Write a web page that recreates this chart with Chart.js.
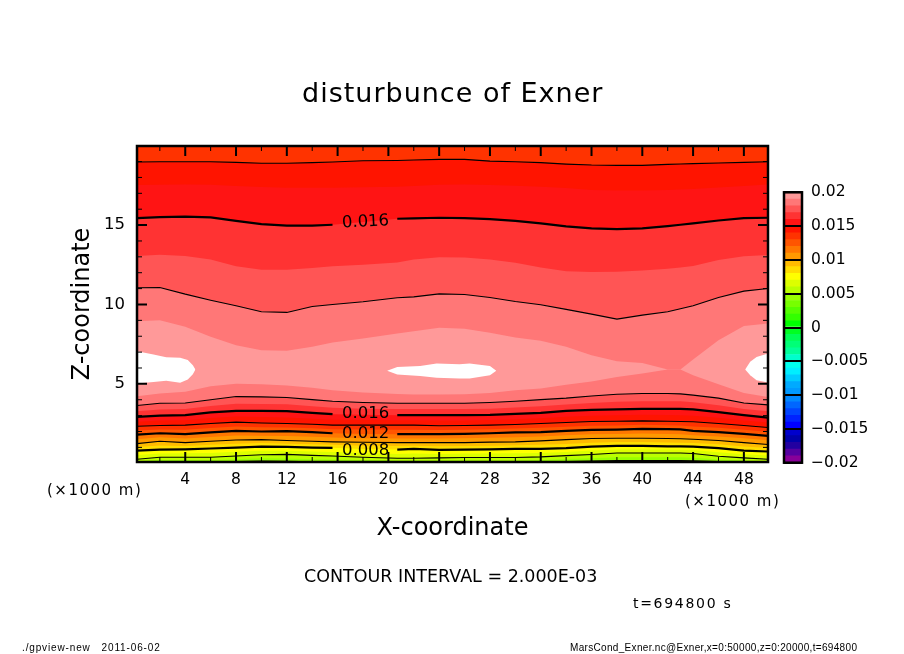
<!DOCTYPE html>
<html>
<head>
<meta charset="utf-8">
<title>disturbunce of Exner</title>
<script src="https://cdn.jsdelivr.net/npm/chart.js@4/dist/chart.umd.min.js"></script>
<style>
  html,body{margin:0;padding:0;background:#fff;width:904px;height:654px;overflow:hidden;}
  canvas{position:absolute;}
  #main{left:0;top:0;}
  #bar{left:770px;top:174px;}
  .txt{position:absolute;white-space:pre;color:#000;font-family:"DejaVu Sans",sans-serif;line-height:1;transform:translateY(-50%);}
  .foot{font-family:"Liberation Sans",sans-serif;font-size:10px;}
</style>
</head>
<body>
<canvas id="main" width="904" height="654"></canvas>
<canvas id="bar" width="130" height="307"></canvas>
<div class="txt" style="left:302px;top:92px;font-size:27px;letter-spacing:1px;">disturbunce of Exner</div>
<div class="txt" style="left:47px;top:490px;font-size:15px;letter-spacing:1.5px;">(×1000 m)</div>
<div class="txt" style="left:685px;top:501px;font-size:15px;letter-spacing:1.5px;">(×1000 m)</div>
<div class="txt" style="left:304px;top:577px;font-size:17.5px;">CONTOUR INTERVAL = 2.000E-03</div>
<div class="txt" style="left:633px;top:603px;font-size:14px;letter-spacing:1.7px;">t=694800 s</div>
<div class="txt foot" style="left:22px;top:648px;letter-spacing:0.86px;">./gpview-new   2011-06-02</div>
<div class="txt foot" style="left:570px;top:648px;letter-spacing:0.32px;">MarsCond_Exner.nc@Exner,x=0:50000,z=0:20000,t=694800</div>
<script>
// x grid (km) shared by all the contour rows
const xKm = [0.2,2,4,6,8,10,12,14,15.6,18,20.7,22,24,26,28,30,32,34,36,38,40,42,43,44,46,48,49.9];

// top of the plot, then the upper side of the maximum: height (km) of each level
const uTop = [19.98,19.98,19.98,19.98,19.98,19.98,19.98,19.98,19.98,19.98,19.98,19.98,19.98,19.98,19.98,19.98,19.98,19.98,19.98,19.98,19.98,19.98,19.98,19.98,19.98,19.98,19.98];
const u014 = [18.97,18.99,18.99,18.99,18.95,18.89,18.89,18.93,18.97,19.05,19.07,19.10,19.14,19.14,19.03,18.99,18.93,18.84,18.78,18.76,18.76,18.82,18.85,18.87,18.91,18.95,18.99];
const u015 = [17.52,17.54,17.56,17.54,17.46,17.40,17.35,17.35,17.35,17.38,17.42,17.46,17.54,17.56,17.52,17.48,17.42,17.34,17.21,17.17,17.17,17.21,17.24,17.27,17.36,17.46,17.56];
const u016 = [15.44,15.50,15.53,15.48,15.27,15.06,14.96,14.96,15.02,15.20,15.40,15.42,15.46,15.44,15.38,15.27,15.11,14.92,14.79,14.75,14.79,14.94,15.02,15.11,15.29,15.44,15.46];
const u017 = [13.05,13.13,13.05,12.84,12.40,12.19,12.19,12.29,12.40,12.50,12.65,12.84,12.98,12.96,12.84,12.63,12.33,12.10,12.04,12.06,12.14,12.25,12.33,12.42,12.80,13.03,13.11];
const u018 = [11.05,11.07,10.65,10.27,9.92,9.54,9.50,9.87,10.00,10.17,10.42,10.48,10.67,10.63,10.44,10.19,9.98,9.69,9.39,9.08,9.33,9.54,9.73,9.92,10.44,10.84,11.01];
const u019 = [8.95,9.01,8.59,7.96,7.44,7.12,7.08,7.33,7.60,7.86,8.17,8.32,8.53,8.47,8.22,7.92,7.71,7.33,6.81,6.43,6.32,5.90,5.90,6.53,7.75,8.64,8.80];

// lower side of the maximum
const l019 = [4.22,4.39,4.50,4.85,5.00,4.98,4.90,4.75,4.60,4.46,4.37,4.33,4.33,4.35,4.43,4.60,4.71,4.94,5.15,5.44,5.65,5.90,5.90,5.55,4.98,4.43,4.18];
const l018 = [3.64,3.78,3.80,4.00,4.20,4.18,4.14,4.01,3.91,3.83,3.78,3.78,3.78,3.78,3.83,3.91,4.01,4.10,4.24,4.35,4.39,4.39,4.37,4.29,4.10,3.80,3.68];
const l017 = [3.28,3.39,3.42,3.60,3.75,3.74,3.71,3.59,3.50,3.44,3.41,3.41,3.41,3.41,3.44,3.51,3.59,3.70,3.80,3.88,3.91,3.91,3.90,3.84,3.66,3.42,3.28];
const l016 = [2.92,3.00,3.03,3.20,3.30,3.30,3.28,3.17,3.09,3.05,3.03,3.03,3.03,3.03,3.05,3.11,3.17,3.30,3.36,3.40,3.43,3.43,3.42,3.39,3.22,3.03,2.88];
const l015 = [2.62,2.69,2.71,2.85,2.94,2.92,2.89,2.81,2.74,2.72,2.71,2.71,2.69,2.70,2.72,2.77,2.83,2.93,3.00,3.02,3.05,3.04,3.02,3.00,2.86,2.70,2.56];
const l014 = [2.33,2.38,2.40,2.50,2.59,2.54,2.50,2.46,2.40,2.40,2.40,2.40,2.36,2.38,2.40,2.44,2.50,2.57,2.63,2.65,2.67,2.65,2.63,2.61,2.50,2.38,2.25];
const l013 = [2.07,2.13,2.11,2.22,2.31,2.27,2.26,2.21,2.14,2.12,2.11,2.11,2.09,2.11,2.14,2.19,2.23,2.30,2.36,2.38,2.42,2.40,2.38,2.32,2.23,2.11,1.98];
const l012 = [1.81,1.89,1.83,1.94,2.04,2.00,2.02,1.96,1.89,1.85,1.83,1.83,1.83,1.85,1.89,1.94,1.96,2.04,2.10,2.12,2.17,2.15,2.13,2.04,1.96,1.85,1.72];
const l011 = [1.52,1.64,1.56,1.66,1.75,1.74,1.72,1.67,1.62,1.58,1.56,1.56,1.56,1.57,1.61,1.64,1.68,1.76,1.83,1.85,1.87,1.85,1.83,1.77,1.69,1.57,1.45];
const l010 = [1.24,1.39,1.30,1.39,1.47,1.49,1.43,1.39,1.35,1.32,1.30,1.30,1.30,1.30,1.33,1.35,1.41,1.49,1.56,1.58,1.58,1.56,1.54,1.51,1.43,1.30,1.18];
const l009 = [1.02,1.12,1.09,1.16,1.23,1.27,1.23,1.19,1.16,1.11,1.08,1.10,1.07,1.08,1.10,1.13,1.16,1.22,1.30,1.34,1.34,1.31,1.30,1.28,1.19,1.05,0.96];
const l008 = [0.80,0.86,0.88,0.93,0.99,1.05,1.03,0.99,0.97,0.90,0.86,0.91,0.84,0.86,0.88,0.91,0.91,0.95,1.05,1.10,1.10,1.07,1.06,1.05,0.95,0.80,0.74];
const l007 = [0.52,0.62,0.63,0.65,0.72,0.79,0.79,0.74,0.71,0.64,0.59,0.61,0.59,0.61,0.62,0.63,0.65,0.71,0.80,0.87,0.87,0.86,0.85,0.83,0.69,0.57,0.49];
const l006 = [0.25,0.38,0.38,0.38,0.46,0.54,0.56,0.50,0.46,0.38,0.32,0.32,0.34,0.36,0.36,0.36,0.40,0.48,0.55,0.65,0.65,0.65,0.65,0.62,0.44,0.34,0.25];
const l005 = [0.12,0.20,0.20,0.20,0.26,0.31,0.30,0.26,0.24,0.20,0.17,0.17,0.17,0.18,0.18,0.18,0.20,0.27,0.32,0.38,0.38,0.38,0.38,0.34,0.24,0.17,0.12];
const l004 = [0.04,0.05,0.05,0.05,0.08,0.11,0.09,0.06,0.05,0.05,0.04,0.04,0.04,0.04,0.04,0.04,0.05,0.07,0.10,0.13,0.13,0.13,0.13,0.12,0.07,0.05,0.04];

// white holes (above the top colour level)
const leftHoleX = [0.2,1.5,2.5,3.6,4.2,4.6,4.8];
const leftHoleTop = [7.06,6.85,6.67,6.64,6.50,6.18,5.90];
const leftHoleBottom = [5.02,5.12,5.19,5.07,5.28,5.61,5.90];
const midHoleX = [19.9,20.7,22.5,23.8,25.6,26.4,28,28.5];
const midHoleTop = [5.82,6.07,6.12,6.28,6.24,6.28,6.12,5.82];
const midHoleBottom = [5.82,5.59,5.50,5.38,5.34,5.34,5.55,5.82];
const rightHoleX = [48.1,48.5,49,49.9];
const rightHoleTop = [5.90,6.39,6.70,6.91];
const rightHoleBottom = [5.90,5.55,5.23,5.09];

// axis ticks
const xMajorTicks = [4,8,12,16,20,24,28,32,36,40,44,48];
const xMinorTicks = [2,6,10,14,18,22,26,30,34,38,42,46];
const zMajorTicks = [5,10,15];
const zMinorTicks = [1,2,3,4,6,7,8,9,11,12,13,14,16,17,18,19];

// contour labels
const labelTexts = ['0.016','0.016','0.012','0.008'];
const labelX = [18.2,18.2,18.2,18.2];
const labelZ = [15.19,3.09,1.89,0.82];
const labelAngle = [-3,0,0,0];

// colour bar
const barLevels = [-0.02,-0.019,-0.018,-0.017,-0.016,-0.015,-0.014,-0.013,-0.012,-0.011,-0.01,-0.009,-0.008,-0.007,-0.006,-0.005,-0.004,-0.003,-0.002,-0.001,0,0.001,0.002,0.003,0.004,0.005,0.006,0.007,0.008,0.009,0.01,0.011,0.012,0.013,0.014,0.015,0.016,0.017,0.018,0.019,0.02];
const barColors = ['#880099','#5500a0','#2200a0','#0000aa','#0000cc','#0000ff','#0022ff','#0044ff','#0066ff','#0088ff','#0099ff','#00aaff','#00ccff','#00eeff','#00ffee','#00ffcc','#00ff99','#00ff77','#00ff55','#00ff22','#00ff00','#33ff00','#55ff00','#77ff00','#99ff00','#bbff00','#ddff00','#ffff00','#ffdd00','#ffbb00','#ff9900','#ff7700','#ff5500','#ff3300','#ff1400','#ff1414','#ff3333','#ff5555','#ff7777','#ff9999'];
const barTickValues = [-0.02,-0.015,-0.01,-0.005,0,0.005,0.01,0.015,0.02];
const barTickLabels = ['\u22120.02','\u22120.015','\u22120.01','\u22120.005','0','0.005','0.01','0.015','0.02'];

// painted in this order, each row fills everything under it
const upperFills = [[uTop,'#ff3300'],[u014,'#ff1400'],[u015,'#ff1414'],[u016,'#ff3333'],[u017,'#ff5555'],[u018,'#ff7777'],[u019,'#ff9999']];
const lowerFills = [[l019,'#ff7777'],[l018,'#ff5555'],[l017,'#ff3333'],[l016,'#ff1414'],[l015,'#ff1400'],[l014,'#ff3300'],[l013,'#ff5500'],[l012,'#ff7700'],[l011,'#ff9900'],[l010,'#ffbb00'],[l009,'#ffdd00'],[l008,'#ffff00'],[l007,'#ddff00'],[l006,'#bbff00'],[l005,'#99ff00']];
// row, line width, has a label gap
const contours = [[u014,1.1,false],[u016,2.2,true],[u018,1.1,false],[l018,1.1,false],[l016,2.2,true],[l014,1.1,false],[l012,2.2,true],[l010,1.1,false],[l008,2.2,true],[l006,1.1,false],[l004,2.2,false]];

Chart.defaults.font.family = '"DejaVu Sans", sans-serif';
Chart.defaults.color = '#000';

function points(xs, zs){
  return xs.map((x,i)=> ({x:x, y:zs[i]}));
}
function fillRow(zs, color){
  return {data:points(xKm,zs), borderWidth:0, pointRadius:0, tension:0, backgroundColor:color, fill:'start'};
}
function holeRows(xs, top, bottom){
  return [
    {data:points(xs,bottom), borderWidth:0, pointRadius:0, fill:false},
    {data:points(xs,top), borderWidth:0, pointRadius:0, backgroundColor:'#fff', fill:'+1'}
  ];
}
function contourRow(zs, width, gap){
  const data = points(xKm,zs);
  if(gap) data[xKm.indexOf(18)].y = null;
  return {data:data, borderColor:'#000', borderWidth:width, pointRadius:0, tension:0, fill:false};
}

// chart.js paints the last dataset first, so build in paint order and flip
const painted = [];
upperFills.forEach(r=> painted.push(fillRow(r[0],r[1])));
lowerFills.forEach(r=> painted.push(fillRow(r[0],r[1])));
painted.push(...holeRows(leftHoleX,leftHoleTop,leftHoleBottom));
painted.push(...holeRows(midHoleX,midHoleTop,midHoleBottom));
painted.push(...holeRows(rightHoleX,rightHoleTop,rightHoleBottom));
contours.forEach(r=> painted.push(contourRow(r[0],r[1],r[2])));
painted.reverse();

// frame, inward ticks on all four sides, contour labels
const framePlugin = {
  id:'frame',
  afterDatasetsDraw(chart){
    const {ctx, chartArea:a, scales:{x,y}} = chart;
    ctx.save();
    ctx.strokeStyle = '#000';
    function xTick(v,len,w){
      const p = x.getPixelForValue(v);
      ctx.lineWidth = w;
      ctx.beginPath();
      ctx.moveTo(p,a.top); ctx.lineTo(p,a.top+len);
      ctx.moveTo(p,a.bottom); ctx.lineTo(p,a.bottom-len);
      ctx.stroke();
    }
    function zTick(v,len,w){
      const p = y.getPixelForValue(v);
      ctx.lineWidth = w;
      ctx.beginPath();
      ctx.moveTo(a.left,p); ctx.lineTo(a.left+len,p);
      ctx.moveTo(a.right,p); ctx.lineTo(a.right-len,p);
      ctx.stroke();
    }
    xMajorTicks.forEach(v=> xTick(v,10,2));
    xMinorTicks.forEach(v=> xTick(v,5,1));
    zMajorTicks.forEach(v=> zTick(v,10,2));
    zMinorTicks.forEach(v=> zTick(v,5,1));
    ctx.lineWidth = 2.5;
    ctx.strokeRect(a.left,a.top,a.right-a.left,a.bottom-a.top);

    ctx.fillStyle = '#000';
    ctx.font = '16.5px "DejaVu Sans", sans-serif';
    ctx.textAlign = 'center';
    ctx.textBaseline = 'middle';
    labelTexts.forEach((t,i)=>{
      ctx.save();
      ctx.translate(x.getPixelForValue(labelX[i]), y.getPixelForValue(labelZ[i]));
      ctx.rotate(labelAngle[i]*Math.PI/180);
      ctx.fillText(t,0,0);
      ctx.restore();
    });
    ctx.restore();
  }
};

new Chart(document.getElementById('main'),{
  type:'line',
  data:{datasets:painted},
  plugins:[framePlugin],
  options:{
    responsive:false,
    animation:false,
    layout:{autoPadding:false,padding:{left:68,top:146,right:136,bottom:111}},
    plugins:{
      legend:{display:false},
      tooltip:{enabled:false}
    },
    scales:{
      x:{
        type:'linear',min:0.2,max:49.9,
        grid:{display:false},border:{display:false},
        afterBuildTicks:s=>{ s.ticks = xMajorTicks.map(v=>({value:v})); },
        afterFit:s=>{ s.height = 81; },
        ticks:{font:{size:15.5},padding:1,maxRotation:0,autoSkip:false},
        title:{display:true,text:'X-coordinate',font:{size:24},padding:0}
      },
      y:{
        type:'linear',min:0.08,max:19.98,
        grid:{display:false},border:{display:false},
        afterBuildTicks:s=>{ s.ticks = zMajorTicks.map(v=>({value:v})); },
        afterFit:s=>{ s.width = 69; },
        ticks:{font:{size:16.5},padding:4},
        title:{display:true,text:'Z-coordinate',font:{size:24},padding:0}
      }
    }
  }
});

// colour bar: one floating bar per level
const barDatasets = barColors.map((c,i)=> ({
  data:[[barLevels[i],barLevels[i+1]]],
  backgroundColor:c,
  barPercentage:1,categoryPercentage:1,grouped:false,borderWidth:0
}));
const barFrame = {
  id:'barFrame',
  afterDatasetsDraw(chart){
    const {ctx, chartArea:a} = chart;
    ctx.save();
    ctx.strokeStyle = '#000';
    ctx.lineWidth = 2.5;
    ctx.strokeRect(a.left,a.top,a.right-a.left,a.bottom-a.top);
    ctx.restore();
  }
};
new Chart(document.getElementById('bar'),{
  type:'bar',
  data:{labels:['Exner'],datasets:barDatasets},
  plugins:[barFrame],
  options:{
    responsive:false,
    animation:false,
    layout:{autoPadding:false,padding:{left:14,top:0,right:0,bottom:0}},
    plugins:{legend:{display:false},tooltip:{enabled:false}},
    scales:{
      x:{display:false,grid:{display:false}},
      y:{
        position:'right',min:-0.02,max:0.02,
        border:{display:false},
        grid:{color:'#000',lineWidth:2,z:1,drawTicks:false},
        afterBuildTicks:s=>{ s.ticks = barTickValues.map(v=>({value:v})); },
        afterFit:s=>{ s.width = 98; },
        ticks:{
          font:{size:15.5},padding:9,autoSkip:false,
          callback:v=> barTickLabels[barTickValues.indexOf(v)]
        }
      }
    }
  }
});
</script>
</body>
</html>
